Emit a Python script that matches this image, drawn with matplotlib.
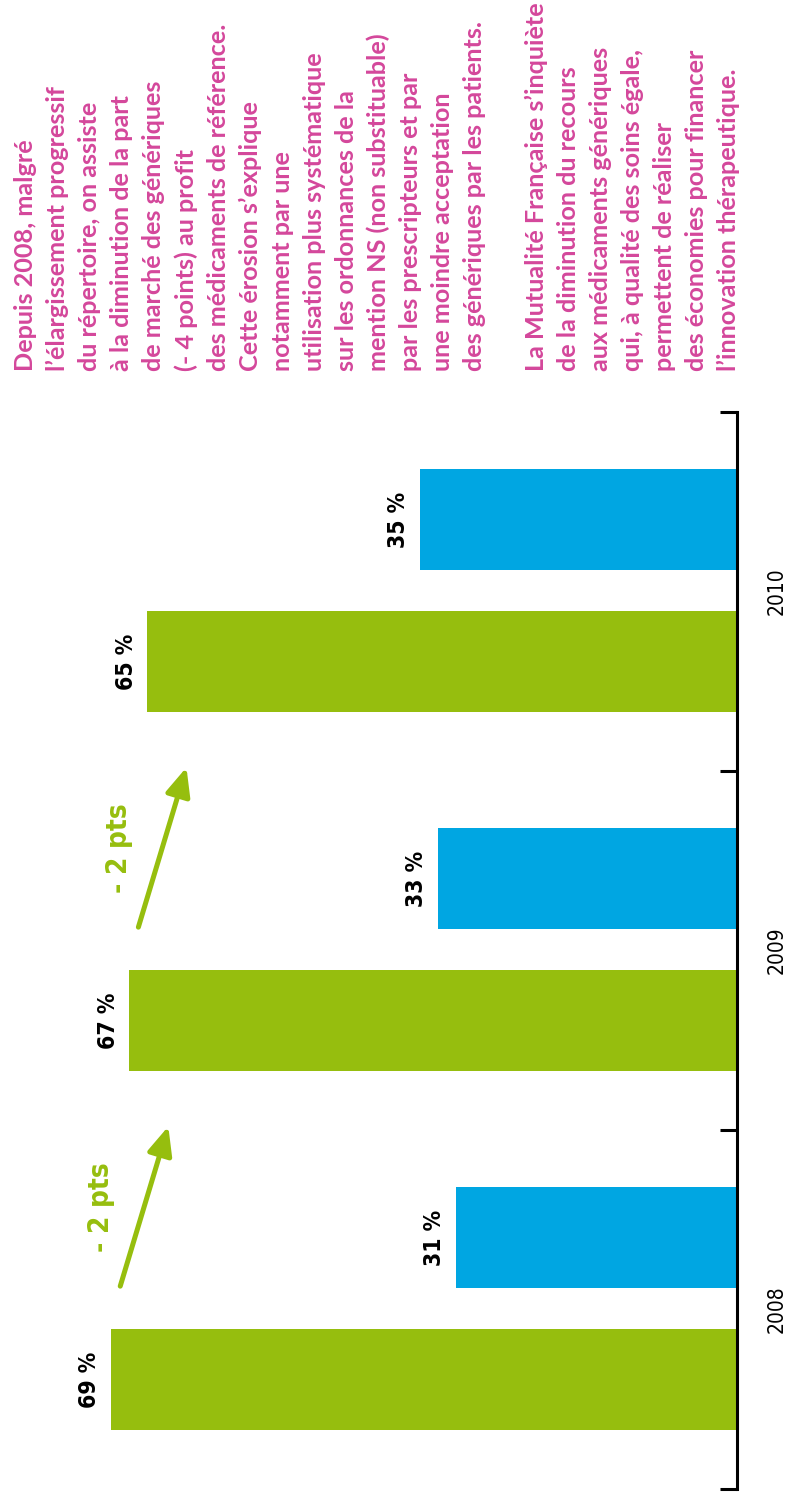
from matplotlib import pyplot as plt

# parts de marche (en %) : generiques / medicaments de reference
years = ['2008', '2009', '2010']
generiques = [69, 67, 65]
reference = [31, 33, 35]
ecarts = ['- 2 pts', '- 2 pts']

para1 = ("Depuis 2008, malgré\n"
         "l\u2019élargissement progressif\n"
         "du répertoire, on assiste\n"
         "à la diminution de la part\n"
         "de marché des génériques\n"
         "(- 4 points) au profit\n"
         "des médicaments de référence.\n"
         "Cette érosion s\u2019explique\n"
         "notamment par une\n"
         "utilisation plus systématique\n"
         "sur les ordonnances de la\n"
         "mention NS (non substituable)\n"
         "par les prescripteurs et par\n"
         "une moindre acceptation\n"
         "des génériques par les patients.")
para2 = ("La Mutualité Française s\u2019inquiète\n"
         "de la diminution du recours\n"
         "aux médicaments génériques\n"
         "qui, à qualité des soins égale,\n"
         "permettent de réaliser\n"
         "des économies pour financer\n"
         "l\u2019innovation thérapeutique.")

vert = '#96BE0E'
bleu = '#00A6E2'
rose = '#D4479B'

W, H = 787, 1501
fig = plt.figure(figsize=(W / 100, H / 100), dpi=100)
ax = fig.add_axes([0, 12 / H, 737 / W, 1077 / H])

n = len(years)
pos_g = [i + 0.305 for i in range(n)]
pos_r = [i + 0.70 for i in range(n)]
ax.barh(pos_g, generiques, height=0.28, color=vert)
ax.barh(pos_r, reference, height=0.28, color=bleu)

for y, v in zip(pos_g + pos_r, generiques + reference):
    ax.annotate(f'{v} %', xy=(v, y), xytext=(-7, 0), textcoords='offset points',
                rotation=90, ha='right', va='center', fontsize=16.5,
                fontweight='bold', fontstretch='condensed', color='black')

# fleches de baisse
for i, txt in enumerate(ecarts):
    x0 = generiques[i] - 1
    ax.annotate('', xy=(x0 - 5.3, i + 1.01), xytext=(x0, i + 0.565),
                arrowprops=dict(arrowstyle='-|>,head_length=1.7,head_width=0.75',
                                mutation_scale=10, lw=3.6, color=vert,
                                shrinkA=0, shrinkB=0))
    ax.text(x0 + 2.1, i + 0.785, txt, rotation=90,
            ha='center', va='center', fontsize=20, fontweight='bold',
            fontstretch='condensed', color=vert)

ax.set_xlim(737 / 9.07, 0)
ax.set_ylim(0, n)
for s in ['left', 'top', 'bottom']:
    ax.spines[s].set_visible(False)
ax.spines['right'].set_linewidth(2.2)
ax.xaxis.set_visible(False)
ax.yaxis.tick_right()
ax.set_yticks(range(n + 1))
ax.set_yticklabels([])
ax.set_yticks([i + 0.5 for i in range(n)], minor=True)
ax.set_yticklabels(years, minor=True, rotation=90, va='center',
                   fontsize=15, fontstretch='condensed')
ax.tick_params(axis='y', which='major', direction='in', length=12.5, width=2.2)
ax.tick_params(axis='y', which='minor', length=0, pad=21)
ax.patch.set_alpha(0)

fig.text(14 / W, 1 - 371 / H, para1, rotation=90, ha='left', va='bottom',
         multialignment='left', linespacing=1.47, fontsize=18.2,
         fontweight='bold', family=['Lato', 'DejaVu Sans'], color=rose)
fig.text(525 / W, 1 - 371 / H, para2, rotation=90, ha='left', va='bottom',
         multialignment='left', linespacing=1.47, fontsize=18.2,
         fontweight='bold', family=['Lato', 'DejaVu Sans'], color=rose)

fig.savefig('out.png', dpi=100)
